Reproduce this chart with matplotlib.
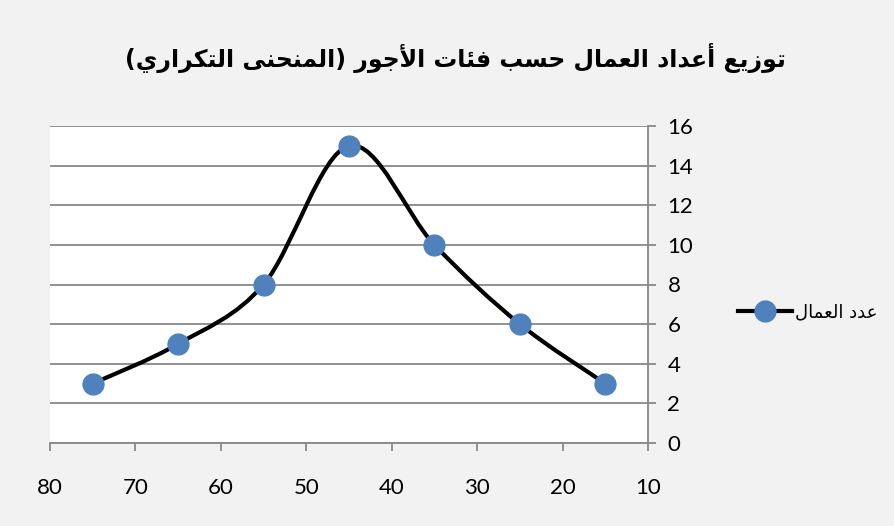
import matplotlib
matplotlib.use("Agg")
import matplotlib.pyplot as plt
from matplotlib.path import Path
from matplotlib.patches import PathPatch
from matplotlib.lines import Line2D

# ---------------- data ----------------
wage_classes = [75, 65, 55, 45, 35, 25, 15]
workers = [3, 5, 8, 15, 10, 6, 3]
x_ticks = [80, 70, 60, 50, 40, 30, 20, 10]
y_ticks = [0, 2, 4, 6, 8, 10, 12, 14, 16]
title_text = "توزيع أعداد العمال حسب فئات الأجور (المنحنى التكراري)"
series_label = "عدد العمال"

# ---------------- minimal Arabic shaping ----------------
# char: (isolated, final, initial, medial) ; None for non-joining left
FORMS = {
    '\u0627': (0xFE8D, 0xFE8E, None, None),
    '\u0623': (0xFE83, 0xFE84, None, None),
    '\u0628': (0xFE8F, 0xFE90, 0xFE91, 0xFE92),
    '\u062A': (0xFE95, 0xFE96, 0xFE97, 0xFE98),
    '\u062C': (0xFE9D, 0xFE9E, 0xFE9F, 0xFEA0),
    '\u062D': (0xFEA1, 0xFEA2, 0xFEA3, 0xFEA4),
    '\u062F': (0xFEA9, 0xFEAA, None, None),
    '\u0631': (0xFEAD, 0xFEAE, None, None),
    '\u0632': (0xFEAF, 0xFEB0, None, None),
    '\u0633': (0xFEB1, 0xFEB2, 0xFEB3, 0xFEB4),
    '\u0639': (0xFEC9, 0xFECA, 0xFECB, 0xFECC),
    '\u0641': (0xFED1, 0xFED2, 0xFED3, 0xFED4),
    '\u0643': (0xFED9, 0xFEDA, 0xFEDB, 0xFEDC),
    '\u0644': (0xFEDD, 0xFEDE, 0xFEDF, 0xFEE0),
    '\u0645': (0xFEE1, 0xFEE2, 0xFEE3, 0xFEE4),
    '\u0646': (0xFEE5, 0xFEE6, 0xFEE7, 0xFEE8),
    '\u0648': (0xFEED, 0xFEEE, None, None),
    '\u0649': (0xFEEF, 0xFEF0, None, None),
    '\u064A': (0xFEF1, 0xFEF2, 0xFEF3, 0xFEF4),
    '\u0626': (0xFE89, 0xFE8A, 0xFE8B, 0xFE8C),
}
LAM_ALEF = {'\u0627': (0xFEFB, 0xFEFC), '\u0623': (0xFEF7, 0xFEF8)}


def joins_left(c):
    return c in FORMS and FORMS[c][2] is not None


def shape(text):
    # merge lam-alef ligatures
    chars = []
    i = 0
    while i < len(text):
        c = text[i]
        if c == '\u0644' and i + 1 < len(text) and text[i + 1] in LAM_ALEF:
            chars.append(('LA', text[i + 1]))
            i += 2
        else:
            chars.append(('C', c))
            i += 1
    out = []
    for k, (kind, c) in enumerate(chars):
        prev = chars[k - 1] if k > 0 else None
        nxt = chars[k + 1] if k + 1 < len(chars) else None
        prev_joins = prev is not None and prev[0] == 'C' and joins_left(prev[1])
        if kind == 'LA':
            iso, fin = LAM_ALEF[c]
            out.append(chr(fin if prev_joins else iso))
            continue
        if c not in FORMS:
            out.append(c)
            continue
        iso, fin, ini, med = FORMS[c]
        next_joins = nxt is not None and (nxt[0] == 'LA' or nxt[1] in FORMS)
        can_left = ini is not None and next_joins
        if prev_joins and can_left:
            out.append(chr(med))
        elif prev_joins:
            out.append(chr(fin))
        elif can_left:
            out.append(chr(ini))
        else:
            out.append(chr(iso))
    vis = ''.join(out)[::-1]
    vis = vis.translate(str.maketrans('()', ')('))
    return vis


# ---------------- figure ----------------
BG = '#F2F2F2'
GRID = '#888888'
fig = plt.figure(figsize=(8.94, 5.26), dpi=100, facecolor=BG)
ax = fig.add_axes([50 / 894, 1 - 443 / 526, 598 / 894, 317 / 526])
ax.set_facecolor('white')

ax.set_xlim(80, 10)
ax.set_ylim(0, 16)
ax.set_xticks(x_ticks)
ax.set_yticks(y_ticks)
ax.yaxis.tick_right()
ax.grid(axis='y', color=GRID, linewidth=1.3)
ax.set_axisbelow(True)
for s in ['top', 'left']:
    ax.spines[s].set_visible(False)
ax.spines['right'].set_color(GRID)
ax.spines['bottom'].set_color(GRID)
ax.spines['right'].set_linewidth(1.3)
ax.spines['bottom'].set_linewidth(1.3)
ax.tick_params(axis='both', colors=GRID, width=1.3, length=6)
ax.tick_params(axis='x', labelcolor='black', labelsize=16, pad=19)
ax.tick_params(axis='y', labelcolor='black', labelsize=16, pad=8)
for lab in ax.get_xticklabels() + ax.get_yticklabels():
    lab.set_fontfamily('Lato')

# smoothed line (Catmull-Rom style Bezier like Excel)
pts = list(zip(wage_classes, workers))
verts = [pts[0]]
codes = [Path.MOVETO]
n = len(pts)
for i in range(n - 1):
    p0 = pts[i - 1] if i > 0 else pts[i]
    p1 = pts[i]
    p2 = pts[i + 1]
    p3 = pts[i + 2] if i + 2 < n else pts[i + 1]
    c1 = (p1[0] + (p2[0] - p0[0]) / 6, p1[1] + (p2[1] - p0[1]) / 6)
    c2 = (p2[0] - (p3[0] - p1[0]) / 6, p2[1] - (p3[1] - p1[1]) / 6)
    verts += [c1, c2, p2]
    codes += [Path.CURVE4] * 3
ax.add_patch(PathPatch(Path(verts, codes), facecolor='none', edgecolor='black',
                       linewidth=3, zorder=3, clip_on=False))
ax.plot(wage_classes, workers, linestyle='none', marker='o', markersize=15,
        markerfacecolor='#4F81BD', markeredgecolor='#4F81BD', zorder=4, clip_on=False)

handle = Line2D([], [], color='black', linewidth=3, marker='o', markersize=15,
                markerfacecolor='#4F81BD', markeredgecolor='#4F81BD')
leg = fig.legend([handle], [shape(series_label)], loc='center left',
                 bbox_to_anchor=(722 / 894, 1 - 312 / 526), frameon=False,
                 handlelength=3.0, handletextpad=0.15,
                 prop={'family': 'DejaVu Sans', 'size': 13})

fig.text(455 / 894, 1 - 58 / 526, shape(title_text), ha='center', va='center',
         fontsize=17, fontweight='bold', family='DejaVu Sans')

fig.savefig('out.png', dpi=100, facecolor=BG)
